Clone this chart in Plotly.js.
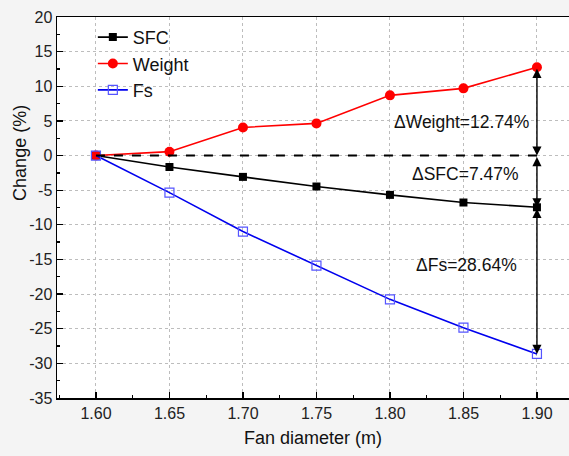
<!DOCTYPE html>
<html><head><meta charset="utf-8">
<script src="https://cdn.plot.ly/plotly-3.0.1.min.js"></script>
<style>html,body{margin:0;padding:0;background:#f4f4f4}</style>
</head><body><div id="chart" style="width:569px;height:456px"></div>
<script>
const fanDiameter = [1.60, 1.65, 1.70, 1.75, 1.80, 1.85, 1.90];
const sfc    = [0, -1.65, -3.08, -4.47, -5.68, -6.78, -7.47];
const weight = [0, 0.56, 4.06, 4.64, 8.69, 9.70, 12.74];
const fs     = [0, -5.35, -10.97, -15.9, -20.76, -24.85, -28.64];
const yTicks = [20, 15, 10, 5, 0, -5, -10, -15, -20, -25, -30, -35];
const yTickText = yTicks.map(v => String(v));
const deltaLabels = ['ΔWeight=12.74%', 'ΔSFC=7.47%', 'ΔFs=28.64%'];
const yTitle = 'Change (%)';

const last = fanDiameter.length - 1;
const xEnd = fanDiameter[last];

const traces = [
  {x: fanDiameter, y: sfc, name: 'SFC', mode: 'lines+markers',
   line: {color: '#000000', width: 1.6},
   marker: {symbol: 'square', size: 8, color: '#000000'}},
  {x: fanDiameter, y: weight, name: 'Weight', mode: 'lines+markers',
   line: {color: '#ff0000', width: 1.6},
   marker: {symbol: 'circle', size: 10, color: '#ff0000'}},
  {x: fanDiameter, y: fs, name: 'Fs', mode: 'lines+markers',
   line: {color: '#0000ee', width: 1.6},
   marker: {symbol: 'square-open', size: 9, color: '#5555ff', line: {width: 1.2}}},
  {x: [fanDiameter[0], xEnd], y: [0, 0], mode: 'lines', showlegend: false,
   line: {color: '#000000', width: 2, dash: 'dash'}, hoverinfo: 'skip'}
];

function arrow(y0, y1) {
  return {x: xEnd, y: y1, ax: xEnd, ay: y0, xref: 'x', yref: 'y', axref: 'x', ayref: 'y',
    text: '', showarrow: true, arrowhead: 2, startarrowhead: 2, arrowside: 'end+start',
    arrowsize: 1.3, startarrowsize: 1.3, arrowwidth: 1.4, arrowcolor: '#000', standoff: 0, startstandoff: 0};
}

const layout = {
  width: 569, height: 456,
  margin: {l: 57, r: 0, t: 17, b: 58},
  paper_bgcolor: '#f4f4f4', plot_bgcolor: '#ffffff',
  font: {family: 'Liberation Sans, Arial, sans-serif', color: '#222', size: 16},
  showlegend: true,
  legend: {x: 0.07, y: 0.995, xanchor: 'left', yanchor: 'top', bgcolor: 'rgba(0,0,0,0)',
    font: {size: 18, color: '#111'}, tracegroupgap: 0},
  xaxis: {range: [1.5735, 1.9218], tickvals: fanDiameter, tickformat: '.2f',
    ticks: 'inside', ticklen: 6, tickwidth: 1.3, tickcolor: '#000',
    minor: {dtick: 0.025, tick0: 1.575, ticks: 'inside', ticklen: 3, tickcolor: '#000', showgrid: false},
    showline: true, linecolor: '#000', linewidth: 1.5, mirror: true,
    showgrid: true, gridcolor: '#bdbdbd', griddash: 'dot', gridwidth: 1,
    zeroline: false, tickfont: {size: 16, color: '#222'},
    title: {text: 'Fan diameter (m)', font: {size: 18, color: '#111'}, standoff: 10}},
  yaxis: {range: [-35, 20], tickvals: yTicks, ticktext: yTickText,
    ticks: 'inside', ticklen: 6, tickwidth: 1.3, tickcolor: '#000',
    minor: {dtick: 2.5, ticks: 'inside', ticklen: 3, tickcolor: '#000', showgrid: false},
    showline: true, linecolor: '#000', linewidth: 1.5, mirror: false,
    showgrid: true, gridcolor: '#bdbdbd', griddash: 'dot', gridwidth: 1,
    zeroline: false, tickfont: {size: 16, color: '#222'}},
  annotations: [
    arrow(weight[last], 0), arrow(0, sfc[last]), arrow(sfc[last], fs[last]),
    {x: 1.8485, y: 4.8, xref: 'x', yref: 'y', text: deltaLabels[0], showarrow: false,
     font: {size: 17.5, color: '#111'}},
    {x: 1.8515, y: -2.7, xref: 'x', yref: 'y', text: deltaLabels[1], showarrow: false,
     font: {size: 17.5, color: '#111'}},
    {x: 1.852, y: -15.8, xref: 'x', yref: 'y', text: deltaLabels[2], showarrow: false,
     font: {size: 17.5, color: '#111'}},
    {x: -0.072, y: 0.4, xref: 'paper', yref: 'y', xanchor: 'center', yanchor: 'middle',
     text: yTitle, textangle: -90, showarrow: false, font: {size: 18, color: '#111'}}
  ]
};

Plotly.newPlot('chart', traces, layout, {displayModeBar: false, staticPlot: true});
</script></body></html>
